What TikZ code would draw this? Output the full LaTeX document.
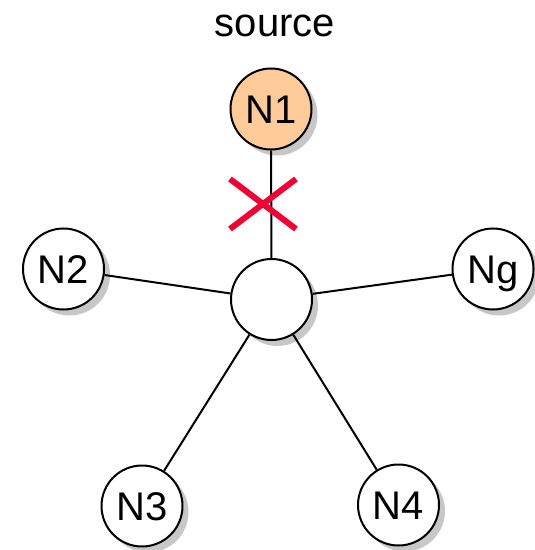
\documentclass[tikz,border=0pt]{standalone}
\usepackage{fontspec}
\setmainfont{Liberation Sans}
\usetikzlibrary{shadows}
\definecolor{peach}{RGB}{255,204,153}
\definecolor{cutred}{RGB}{240,0,50}
\tikzset{
  peer/.style = 	{shape=circle, draw, line width=1pt, fill=white,
				minimum size=40.5pt, inner sep=0pt,
				font=\fontsize{20}{24}\selectfont,
				text height=14.3pt, text depth=0pt,
				drop shadow={shadow xshift=3pt, shadow yshift=-3pt,
					fill=black!22, opacity=1}},
  src/.style = 	{peer, fill=peach},
  link/.style = 	{draw, line width=1pt},
  cut/.style = 	{draw=cutred, line width=3pt},
}
\begin{document}
\begin{tikzpicture}
	[
		x = 0.5pt,
		y = -0.5pt
	]
	\useasboundingbox (0,0) rectangle (534,550);
	\node [font=\fontsize{20}{24}\selectfont] (lbl) at (275,25.5) {source};
	\node [peer] (hub) at (271.5,299.5) {};
	\node [src] (n1) at (271,109) {N1};
	\node [peer] (n2) at (63.5,269) {N2};
	\node [peer] (ng) at (493,269) {Ng};
	\node [peer] (n3) at (142,506) {N3};
	\node [peer] (n4) at (398.5,505) {N4};
	% links to the hub
	\draw [link] (n1) -- (hub);
	\draw [link] (n2) -- (hub);
	\draw [link] (ng) -- (hub);
	\draw [link] (n3) -- (hub);
	\draw [link] (n4) -- (hub);
	% broken link
	\coordinate (x) at (263,204);
	\draw [cut] (x) ++(-33,-25) -- ++(66,50);
	\draw [cut] (x) ++(-33,25) -- ++(66,-50);
\end{tikzpicture}
\end{document}
